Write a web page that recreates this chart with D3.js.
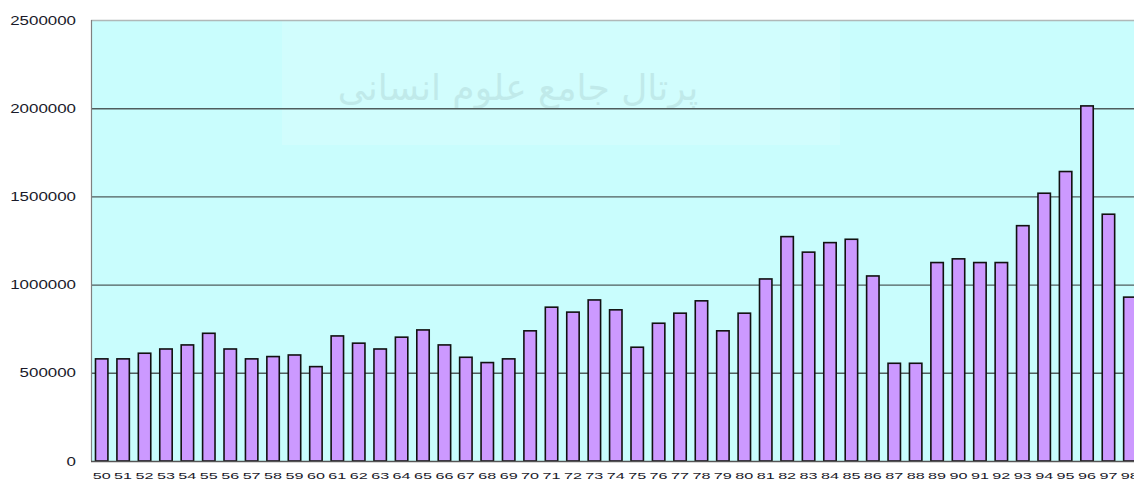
<!DOCTYPE html>
<html>
<head>
<meta charset="utf-8">
<script src="https://cdn.jsdelivr.net/npm/d3@7"></script>
<style>
  html, body { margin: 0; padding: 0; background: #fff; }
  svg { display: block; }
</style>
</head>
<body>
<svg id="chart" width="1134" height="480"></svg>
<script>
// years (two digit labels as printed under the bars)
var years = ["50","51","52","53","54","55","56","57","58","59",
             "60","61","62","63","64","65","66","67","68","69",
             "70","71","72","73","74","75","76","77","78","79",
             "80","81","82","83","84","85","86","87","88","89",
             "90","91","92","93","94","95","96","97","98"];

var values = [579000, 579000, 611000, 635000, 658000, 724000, 635000, 579000, 592000, 601000,
              535000, 709000, 668000, 635000, 702000, 743000, 658000, 588000, 558000, 579000,
              738000, 872000, 844000, 913000, 857000, 645000, 781000, 838000, 908000, 738000,
              838000, 1032000, 1272000, 1184000, 1238000, 1257000, 1049000, 554000, 554000, 1125000,
              1146000, 1125000, 1125000, 1334000, 1518000, 1641000, 2013000, 1399000, 929000];

var yTicks = [0, 500000, 1000000, 1500000, 2000000, 2500000];

var plotLeft = 91,
    plotTop = 20,
    plotBottom = 461,
    step = 21.42,
    plotRight = plotLeft + step * years.length;

var svg = d3.select("#chart");

var x = d3.scaleBand()
    .domain(years)
    .range([plotLeft, plotRight])
    .paddingInner(0.42)
    .paddingOuter(0.21);

var y = d3.scaleLinear()
    .domain([0, 2500000])
    .range([plotBottom, plotTop]);

// plot background
svg.append("rect")
    .attr("x", plotLeft)
    .attr("y", plotTop)
    .attr("width", plotRight - plotLeft)
    .attr("height", plotBottom - plotTop)
    .style("fill", "#c9fdfd");

// faint watermark block
svg.append("rect")
    .attr("x", 282)
    .attr("y", 0)
    .attr("width", 558)
    .attr("height", 145)
    .style("fill", "#ffffff")
    .style("opacity", 0.15);

svg.append("text")
    .attr("x", 518)
    .attr("y", 100)
    .attr("text-anchor", "middle")
    .attr("direction", "rtl")
    .style("font-family", "DejaVu Sans")
    .style("font-size", "36px")
    .style("fill", "#8fb4b4")
    .style("opacity", 0.25)
    .text("پرتال جامع علوم انسانی");

// gridlines
svg.append("g")
    .selectAll("line")
    .data(yTicks.filter(function (d) { return d > 0; }))
    .enter()
    .append("line")
    .attr("x1", plotLeft)
    .attr("x2", plotRight)
    .attr("y1", function (d) { return y(d) + 0.5; })
    .attr("y2", function (d) { return y(d) + 0.5; })
    .style("stroke", function (d) { return d == 2500000 ? "#b0b8b8" : "#4f5d5d"; })
    .style("stroke-width", 1.4);

// bars
svg.append("g")
    .selectAll("rect")
    .data(values)
    .enter()
    .append("rect")
    .attr("x", function (d, i) { return x(years[i]); })
    .attr("y", function (d) { return y(d); })
    .attr("width", x.bandwidth())
    .attr("height", function (d) { return plotBottom - y(d); })
    .style("fill", "#cc99ff")
    .style("stroke", "#111")
    .style("stroke-width", 1.6);

// axis lines
svg.append("line")
    .attr("x1", plotLeft + 0.5).attr("x2", plotLeft + 0.5)
    .attr("y1", plotTop).attr("y2", plotBottom)
    .style("stroke", "#808080")
    .style("stroke-width", 1.2);

svg.append("line")
    .attr("x1", plotLeft).attr("x2", plotRight)
    .attr("y1", plotBottom + 0.5).attr("y2", plotBottom + 0.5)
    .style("stroke", "#555")
    .style("stroke-width", 1.4);

// y tick labels
svg.append("g")
    .selectAll("text")
    .data(yTicks)
    .enter()
    .append("text")
    .attr("x", 76)
    .attr("y", function (d) { return y(d) + 4.5; })
    .attr("text-anchor", "end")
    .attr("textLength", function (d) { return String(d).length * 9.4; })
    .attr("lengthAdjust", "spacingAndGlyphs")
    .style("font-family", "Liberation Sans, Arial, sans-serif")
    .style("font-size", "12.5px")
    .style("fill", "#1a1a2a")
    .text(function (d) { return d; });

// x tick labels
svg.append("g")
    .selectAll("text")
    .data(years)
    .enter()
    .append("text")
    .attr("x", function (d) { return x(d) + x.bandwidth() / 2 - 9; })
    .attr("y", 478.5)
    .attr("textLength", 18)
    .attr("lengthAdjust", "spacingAndGlyphs")
    .style("font-family", "Liberation Sans, Arial, sans-serif")
    .style("font-size", "9.5px")
    .style("fill", "#1a1a2a")
    .text(function (d) { return d; });
</script>
</body>
</html>
